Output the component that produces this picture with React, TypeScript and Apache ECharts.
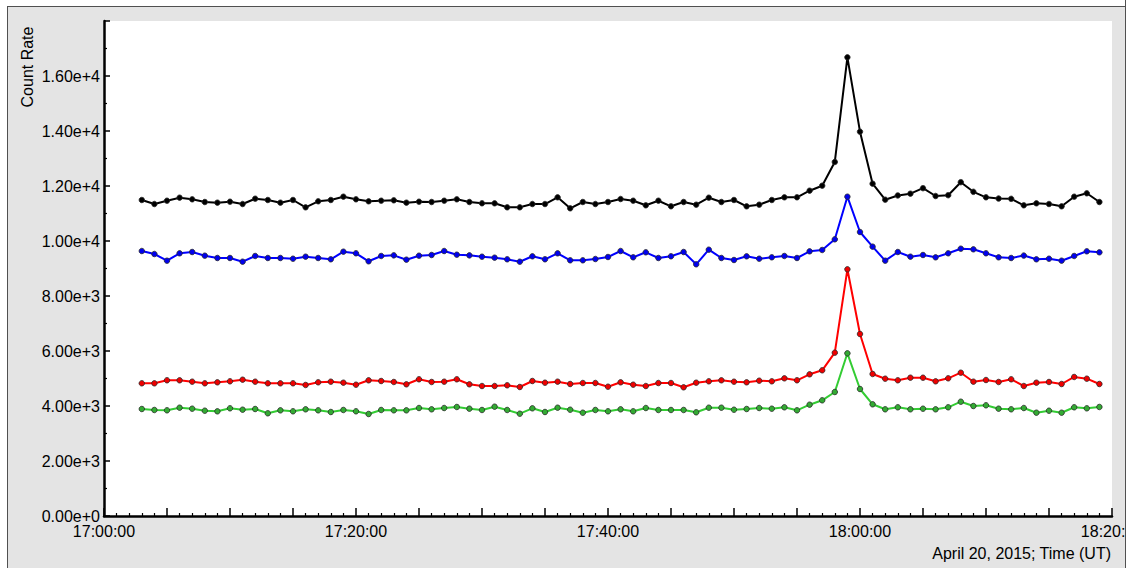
import React, { useEffect, useRef } from "react";
import * as echarts from "echarts";

// Sampling: one point per minute, starting 17:03 UT (minutes after 17:00:00)
const START_MINUTE = 3;
const STEP_MINUTES = 1;

const blackSeries = [
  11491, 11345, 11465, 11575, 11516, 11418, 11393, 11429, 11345, 11538,
  11491, 11393, 11491, 11225, 11444, 11491, 11611, 11516, 11444, 11465,
  11480, 11393, 11429, 11418, 11465, 11516, 11418, 11371, 11371, 11225,
  11225, 11345, 11345, 11589, 11189, 11418, 11345, 11418, 11527, 11465,
  11298, 11465, 11262, 11418, 11320, 11575, 11418, 11491, 11262, 11320,
  11491, 11589, 11589, 11829, 12011, 12873, 16680, 13975, 12084, 11502,
  11655, 11720, 11920, 11636, 11665, 12138, 11789, 11589, 11545, 11534,
  11298, 11371, 11345, 11262, 11611, 11735, 11418,
];

const blueSeries = [
  9636, 9527, 9284, 9553, 9600, 9466, 9382, 9382, 9247, 9455,
  9382, 9382, 9356, 9429, 9382, 9335, 9611, 9553, 9262, 9455,
  9478, 9320, 9466, 9491, 9636, 9502, 9478, 9429, 9393, 9335,
  9247, 9444, 9335, 9553, 9298, 9298, 9345, 9418, 9636, 9407,
  9589, 9382, 9444, 9600, 9153, 9684, 9382, 9309, 9444, 9356,
  9407, 9455, 9382, 9625, 9673, 10061, 11611, 10327, 9794, 9284,
  9600, 9429, 9491, 9407, 9553, 9720, 9698, 9553, 9407, 9382,
  9470, 9335, 9356, 9284, 9455, 9625, 9589,
];

const redSeries = [
  4825, 4825, 4935, 4935, 4884, 4825, 4862, 4898, 4956, 4884,
  4825, 4825, 4825, 4764, 4862, 4884, 4847, 4775, 4935, 4909,
  4873, 4789, 4971, 4873, 4884, 4971, 4789, 4727, 4727, 4753,
  4691, 4909, 4847, 4884, 4800, 4836, 4836, 4702, 4862, 4775,
  4727, 4836, 4836, 4680, 4847, 4898, 4935, 4884, 4862, 4920,
  4898, 5007, 4935, 5153, 5298, 5938, 8971, 6618, 5164, 4993,
  4935, 5029, 5029, 4898, 5007, 5211, 4884, 4945, 4873, 4971,
  4727, 4847, 4873, 4800, 5055, 4993, 4800,
];

const greenSeries = [
  3891, 3855, 3843, 3938, 3902, 3829, 3807, 3916, 3865, 3891,
  3735, 3843, 3807, 3880, 3843, 3782, 3855, 3807, 3709, 3855,
  3843, 3843, 3927, 3880, 3927, 3964, 3902, 3855, 3975, 3855,
  3720, 3916, 3782, 3938, 3865, 3756, 3855, 3807, 3880, 3807,
  3927, 3855, 3855, 3855, 3771, 3938, 3938, 3865, 3891, 3927,
  3902, 3953, 3843, 4047, 4207, 4509, 5916, 4618, 4062, 3880,
  3953, 3880, 3902, 3880, 3953, 4156, 4000, 4025, 3902, 3880,
  3927, 3756, 3829, 3756, 3953, 3916, 3964,
];

const seriesDefs = [
  { name: "black", values: blackSeries, line: "#000000", fill: "#000000" },
  { name: "blue", values: blueSeries, line: "#0000ff", fill: "#0000ee" },
  { name: "red", values: redSeries, line: "#ff0000", fill: "#ee0000" },
  { name: "green", values: greenSeries, line: "#33cc33", fill: "#33aa33" },
];

const yTickLabels = ["0.00e+0", "2.00e+3", "4.00e+3", "6.00e+3", "8.00e+3", "1.00e+4", "1.20e+4", "1.40e+4", "1.60e+4"];
const xTickLabels = ["17:00:00", "17:20:00", "17:40:00", "18:00:00", "18:20:00"];
const yAxisTitle = "Count Rate";
const xAxisTitle = "April 20, 2015; Time (UT)";

const FONT = '"Liberation Sans", Arial, sans-serif';

export default function App() {
  const ref = useRef<HTMLDivElement>(null);

  useEffect(() => {
    if (!ref.current) return;
    const chart = echarts.init(ref.current, undefined, { renderer: "svg" });

    const series = seriesDefs.map((s) => ({
      name: s.name,
      type: "line",
      data: s.values.map((v, i) => [START_MINUTE + i * STEP_MINUTES, v]),
      symbol: "circle",
      symbolSize: 5.5,
      showSymbol: true,
      lineStyle: { color: s.line, width: 2 },
      itemStyle: { color: s.fill, borderColor: "#2a2a2a", borderWidth: 0.8 },
      emphasis: { disabled: true },
      z: 3,
    }));

    chart.setOption({
      animation: false,
      backgroundColor: "transparent",
      textStyle: { fontFamily: FONT },
      grid: {
        left: 104,
        right: 16,
        top: 21,
        bottom: 52,
        show: true,
        backgroundColor: "#ffffff",
        borderWidth: 0,
        containLabel: false,
        outerBoundsMode: "none",
      },
      xAxis: {
        type: "value",
        min: 0,
        max: 80,
        interval: 5,
        axisLine: { show: true, onZero: false, lineStyle: { color: "#000", width: 2.5 } },
        axisTick: { show: true, inside: true, length: 8, lineStyle: { color: "#000", width: 1.5 } },
        minorTick: { show: true, splitNumber: 5, length: 3, lineStyle: { color: "#000", width: 1.2 } },
        splitLine: { show: false },
        minorSplitLine: { show: false },
        axisLabel: {
          show: true,
          margin: 7,
          color: "#000",
          fontSize: 16,
          fontFamily: FONT,
          showMinLabel: true,
          showMaxLabel: true,
          hideOverlap: false,
          formatter: (v: number) => {
            const m = Math.round(v);
            if (m % 20 !== 0) return "";
            return xTickLabels[m / 20] ?? "";
          },
        },
      },
      yAxis: {
        type: "value",
        min: 0,
        max: 18000,
        interval: 2000,
        axisLine: { show: true, lineStyle: { color: "#000", width: 2.5 } },
        axisTick: { show: true, inside: true, length: 6, lineStyle: { color: "#000", width: 1.5 } },
        minorTick: { show: true, splitNumber: 2, length: 3, lineStyle: { color: "#000", width: 1.2 } },
        splitLine: { show: false },
        axisLabel: {
          show: true,
          margin: 4,
          color: "#000",
          fontSize: 16,
          fontFamily: FONT,
          showMaxLabel: false,
          formatter: (v: number) => {
            const idx = Math.round(v / 2000);
            return yTickLabels[idx] ?? "";
          },
        },
      },
      graphic: [
        {
          type: "text",
          x: 27,
          y: 67,
          rotation: Math.PI / 2,
          style: {
            text: yAxisTitle,
            font: `16px ${FONT}`,
            fill: "#000",
            textAlign: "center",
            textVerticalAlign: "middle",
          },
        },
        {
          type: "text",
          x: 1111,
          y: 553,
          style: {
            text: xAxisTitle,
            font: `16px ${FONT}`,
            fill: "#000",
            textAlign: "right",
            textVerticalAlign: "middle",
          },
        },
      ],
      series,
    });

    return () => {
      chart.dispose();
    };
  }, []);

  return (
    <div
      style={{
        position: "fixed",
        left: 0,
        top: 0,
        width: 1128,
        height: 568,
        background: "#ffffff",
        overflow: "hidden",
      }}
    >
      <div
        style={{
          position: "absolute",
          left: 7,
          top: 6,
          width: 1117,
          height: 600,
          background: "#e4e4e4",
          border: "1px solid #505050",
        }}
      />
      <div ref={ref} style={{ position: "absolute", left: 0, top: 0, width: 1128, height: 568 }} />
      <div
        style={{
          position: "absolute",
          left: 1125,
          top: 0,
          width: 3,
          height: 568,
          background: "#ffffff",
          borderLeft: "1px solid #505050",
          boxSizing: "border-box",
          zIndex: 5,
        }}
      />
    </div>
  );
}
